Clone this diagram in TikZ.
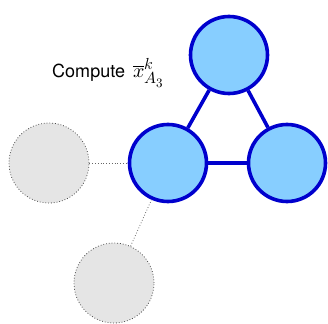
\documentclass[tikz,border=0pt]{standalone}
\usepackage{fontspec}
\setmainfont{TeX Gyre Heros}
\usepackage{unicode-math}
\setmathfont{Latin Modern Math}
\DeclareMathSizes{18}{20}{16}{13}
\definecolor{nodefill}{RGB}{135,206,255}
\definecolor{nodeedge}{RGB}{0,0,205}
\begin{document}
\begin{tikzpicture}[x=1pt,y=-1pt,
  bluenode/.style={circle,draw=nodeedge,fill=nodefill,line width=3.6pt,minimum size=77pt,inner sep=0pt},
  graynode/.style={circle,draw=black!70,fill=gray!20,dotted,line width=0.8pt,minimum size=80pt,inner sep=0pt},
  blueedge/.style={draw=nodeedge,line width=3.6pt},
  grayedge/.style={draw=black!60,dotted,line width=0.8pt}]
\useasboundingbox (0,0) rectangle (328,323);
\node[graynode] (g1) at (49,163) {};
\node[graynode] (g2) at (114,283) {};
\node[bluenode] (t) at (229,55) {};
\node[bluenode] (l) at (168,163) {};
\node[bluenode] (r) at (287,163) {};
\draw[blueedge] (t) -- (l);
\draw[blueedge] (t) -- (r);
\draw[blueedge] (l) -- (r);
\draw[grayedge] (g1) -- (l);
\draw[grayedge] (g2) -- (l);
\node[font=\fontsize{18}{21}\selectfont,anchor=base west,inner sep=0pt] (lab) at (52,78) {Compute\, $\overline{x}^k_{A_3}$};
\end{tikzpicture}
\end{document}
